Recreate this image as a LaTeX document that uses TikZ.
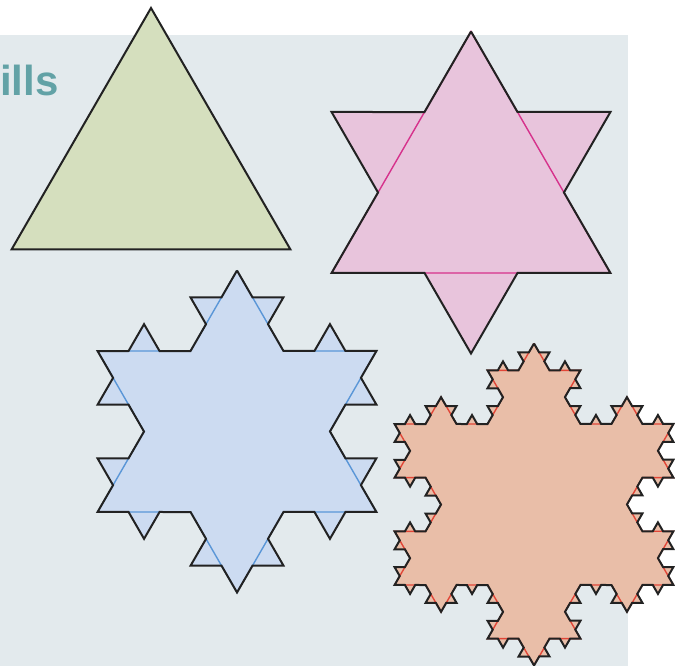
\documentclass[tikz,border=0pt]{standalone}
\usepackage{fontspec}
\newfontfamily\headfont{Liberation Sans}
\usetikzlibrary{calc,decorations.fractals}
\definecolor{panelbg}{HTML}{E3EAED}
\definecolor{headteal}{HTML}{62A2A6}
\definecolor{greenfill}{HTML}{D5DFBE}
\definecolor{pinkfill}{HTML}{E8C4DC}
\definecolor{pinkline}{HTML}{D6328C}
\definecolor{bluefill}{HTML}{CCDBF1}
\definecolor{blueline}{HTML}{5A96D7}
\definecolor{orangefill}{HTML}{E9BEA8}
\definecolor{orangeline}{HTML}{E14637}
\definecolor{outline}{HTML}{222222}
\tikzset{
	snowflake/.style={decoration=Koch snowflake},
	outer edge/.style={draw=outline, line width=2pt, line join=miter},
	inner edge/.style={line width=1.4pt},
	heading/.style={
		font=\headfont\bfseries\fontsize{42}{42}\selectfont,
		text=headteal, inner sep=0pt, anchor=base west
	}
}
% corners of an upright triangle round a centre
\newcommand{\tricorners}[2]{%
	\coordinate (#1-top)   at ($(#2)+(90:161)$);
	\coordinate (#1-right) at ($(#2)+(-30:161)$);
	\coordinate (#1-left)  at ($(#2)+(210:161)$);}
\newcommand{\tri}[1]{(#1-top) -- (#1-right) -- (#1-left) -- cycle}

\begin{document}
\begin{tikzpicture}[x=1pt,y=1pt,snowflake]
  \fill[white] (0,0) rectangle (675,666);
  \fill[panelbg] (0,0) rectangle (628,631);
  \useasboundingbox (0,0) rectangle (675,666);
  \node[heading] (title) at (0,570) {ills};

  \tricorners{green}{151,497}
  \tricorners{pink}{471,473.5}
  \tricorners{blue}{237,234.5}
  \tricorners{orange}{534,161.5}

  % step 0
  \filldraw[fill=greenfill, outer edge] \tri{green};
  % step 1
  \fill[pinkfill] decorate{\tri{pink}};
  \draw[pinkline, inner edge] \tri{pink};
  \draw[outer edge] decorate{\tri{pink}};
  % step 2
  \fill[bluefill] decorate{decorate{\tri{blue}}};
  \draw[blueline, inner edge] decorate{\tri{blue}};
  \draw[outer edge] decorate{decorate{\tri{blue}}};
  % step 3
  \fill[orangefill] decorate{decorate{decorate{\tri{orange}}}};
  \draw[orangeline, inner edge] decorate{decorate{\tri{orange}}};
  \draw[outer edge] decorate{decorate{decorate{\tri{orange}}}};
\end{tikzpicture}
\end{document}
